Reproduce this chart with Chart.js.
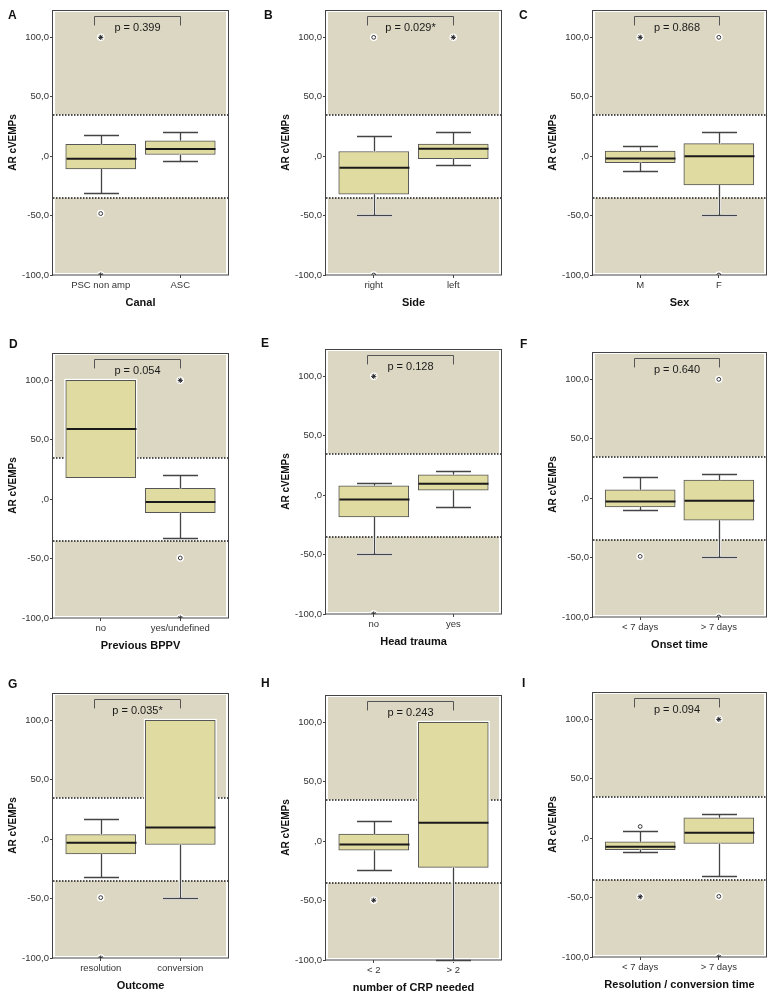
<!DOCTYPE html>
<html>
<head>
<meta charset="utf-8">
<script src="https://cdn.jsdelivr.net/npm/chart.js@4.4.1/dist/chart.umd.min.js"></script>
<style>
  body { margin: 0; background: #fff; width: 773px; height: 992px; overflow: hidden; position: relative; }
  .panel { position: absolute; }
  .letter { position: absolute; font: bold 12px 'Liberation Sans', Arial, sans-serif; color: #111; line-height: 14px; }
</style>
</head>
<body>
<script>
// ---- data (AR cVEMPs, %) ----
const panelLetters = ['A', 'B', 'C', 'D', 'E', 'F', 'G', 'H', 'I'];
const xAxisTitles = ['Canal', 'Side', 'Sex', 'Previous BPPV', 'Head trauma', 'Onset time',
  'Outcome', 'number of CRP needed', 'Resolution / conversion time'];
const groupLabels = [
  ['PSC non amp', 'ASC'], ['right', 'left'], ['M', 'F'],
  ['no', 'yes/undefined'], ['no', 'yes'], ['< 7 days', '> 7 days'],
  ['resolution', 'conversion'], ['< 2', '> 2'], ['< 7 days', '> 7 days'],
];
const pValueLabels = ['p = 0.399', 'p = 0.029*', 'p = 0.868', 'p = 0.054', 'p = 0.128',
  'p = 0.640', 'p = 0.035*', 'p = 0.243', 'p = 0.094'];

const whiskerLow = [[-30.8, -4.2], [-49.2, -7.6], [-12.1, -49.2], [18, -32.3], [-49.4, -9.9],
  [-9.8, -49.2], [-31.5, -49.4], [-24.6, -100], [-11.8, -31.5]];
const boxQ1 = [[-10.8, 1.4], [-32, -2.2], [-5.4, -24.3], [18, -11.4], [-18.4, 4.2],
  [-7.3, -18.5], [-12.4, -4.5], [-7.6, -22], [-9.6, -4.5]];
const boxMedian = [[-2.2, 6.1], [-9.8, 6.2], [-2, 0], [59, -2.3], [-3.7, 9.6],
  [-2.8, -2.2], [-3.1, 9.8], [-2.8, 15.5], [-7.3, 4.5]];
const boxQ3 = [[10, 13], [3.9, 10.1], [4.2, 10.5], [100, 9.1], [7.9, 17.2],
  [7, 15.2], [3.9, 100], [5.9, 100], [-3.1, 17.1]];
const whiskerHigh = [[17.5, 20.3], [17.1, 20], [8.5, 20.3], [100, 20.6], [10.5, 20.3],
  [17.4, 20], [16.9, 100], [17.2, 100], [6.2, 20.5]];

// outliers as [group index, value]
const circleOutliers = [
  [[0, -48.3]], [[0, 100], [0, -100]], [[1, 100], [1, -100]],
  [[1, -49.5]], [], [[0, -49], [1, 100], [1, -100]],
  [[0, -49.2]], [], [[0, 9.8], [1, -49]],
];
const starOutliers = [
  [[0, 100], [0, -100]], [[1, 100]], [[0, 100]],
  [[1, 100], [1, -100]], [[0, 100], [0, -100]], [],
  [[0, -100]], [[0, -49.7]], [[0, -49.3], [1, 100], [1, -100]],
];

const yTickValues = [-100, -50, 0, 50, 100];
const yRange = [-100, 123];
const xRange = [-0.6, 1.6];
const normalBand = [-35, 35];
const bracketLevels = [118, 110];
const pLabelLevel = 107.5;
const bracketSpan = [-0.08, 1];

// ---- layout / style ----
const colLeft = [0, 273, 540];
const colRightPad = [6, 6, 8];
const panelTop = [0, 0, 0, 343, 339, 342, 683, 685, 682];
const letterPos = [[8, 8], [264, 8], [519, 8], [9, 337], [261, 336], [520, 337], [8, 677], [261, 676], [522, 676]];
const FONT = "'Liberation Sans', Arial, sans-serif";
const BEIGE = '#dcd7c2';
const BOX_FILL = '#e0dba0';
const INK = '#444';

Chart.defaults.font.family = FONT;

const yTickLabel = (v) => (v === 0 ? ',0' : v.toFixed(1).replace('.', ','));

const spssBox = {
  id: 'spssBox',
  beforeDraw(chart) {
    const { ctx, chartArea: a, scales: { y } } = chart;
    const yHi = y.getPixelForValue(normalBand[1]);
    const yLo = y.getPixelForValue(normalBand[0]);
    ctx.save();
    ctx.fillStyle = '#fff';
    ctx.fillRect(a.left, a.top, a.width, a.height);
    ctx.fillStyle = BEIGE;
    ctx.fillRect(a.left + 2, a.top + 2, a.width - 4, a.height - 4);
    ctx.fillStyle = '#fff';
    ctx.fillRect(a.left, yHi, a.width, yLo - yHi);
    ctx.strokeStyle = '#1a1a1a';
    ctx.lineWidth = 1.5;
    ctx.setLineDash([1.5, 1.5]);
    [yHi, yLo].forEach((py) => {
      ctx.beginPath();
      ctx.moveTo(a.left, Math.round(py));
      ctx.lineTo(a.right, Math.round(py));
      ctx.stroke();
    });
    ctx.restore();
  },
  beforeDatasetDraw(chart, args) {
    if (args.meta.type !== 'bar') return;
    const { ctx } = chart;
    ctx.save();
    ctx.strokeStyle = '#fff';
    ctx.lineWidth = 3;
    args.meta.data.forEach((bar) => {
      const top = Math.min(bar.y, bar.base), h = Math.abs(bar.base - bar.y);
      ctx.strokeRect(bar.x - bar.width / 2, top, bar.width, h);
    });
    ctx.restore();
  },
  afterDatasetDraw(chart, args, opts) {
    if (args.meta.type !== 'bar') return;
    const p = opts.panel;
    const { ctx, scales: { x, y } } = chart;
    const boxW = args.meta.data[0].width;
    const capW = boxW / 2;
    const seg = (x0, y0, x1, y1) => { ctx.beginPath(); ctx.moveTo(x0, y0); ctx.lineTo(x1, y1); ctx.stroke(); };
    ctx.save();
    groupLabels[p].forEach((_, i) => {
      const cx = Math.round(x.getPixelForValue(i)) + 0.5;
      const parts = [];
      if (whiskerHigh[p][i] > boxQ3[p][i]) parts.push([boxQ3[p][i], whiskerHigh[p][i]]);
      if (whiskerLow[p][i] < boxQ1[p][i]) parts.push([boxQ1[p][i], whiskerLow[p][i]]);
      [['#fff', 3], [INK, 1.3]].forEach(([col, lw]) => {
        ctx.strokeStyle = col;
        ctx.lineWidth = lw;
        parts.forEach(([from, to]) => {
          const yEnd = Math.round(y.getPixelForValue(to)) + 0.5;
          seg(cx, y.getPixelForValue(from), cx, yEnd);
          seg(cx - capW / 2, yEnd, cx + capW / 2, yEnd);
        });
      });
      ctx.strokeStyle = '#1a1a1a';
      ctx.lineWidth = 2;
      const ym = y.getPixelForValue(boxMedian[p][i]);
      seg(cx - boxW / 2, ym, cx + boxW / 2, ym);
    });
    ctx.restore();
  },
  afterDraw(chart, args, opts) {
    const p = opts.panel;
    const { ctx, chartArea: a, scales: { x, y } } = chart;
    ctx.save();
    ctx.strokeStyle = INK;
    ctx.lineWidth = 1;
    ctx.strokeRect(Math.round(a.left) - 0.5, Math.round(a.top) + 0.5, Math.round(a.width) + 1, Math.round(a.height) - 0.5);
    // significance bracket
    const x0 = Math.round(x.getPixelForValue(bracketSpan[0])) + 0.5;
    const x1 = Math.round(x.getPixelForValue(bracketSpan[1])) + 0.5;
    const yTop = Math.round(y.getPixelForValue(bracketLevels[0])) + 0.5;
    const yEnd = y.getPixelForValue(bracketLevels[1]);
    ctx.strokeStyle = '#555';
    ctx.beginPath();
    ctx.moveTo(x0, yEnd); ctx.lineTo(x0, yTop); ctx.lineTo(x1, yTop); ctx.lineTo(x1, yEnd);
    ctx.stroke();
    ctx.fillStyle = '#1a1a1a';
    ctx.font = '11px ' + FONT;
    ctx.textAlign = 'center';
    ctx.textBaseline = 'middle';
    ctx.fillText(pValueLabels[p], (x0 + x1) / 2, y.getPixelForValue(pLabelLevel));
    ctx.restore();
  },
};

const pointClip = { left: 6, top: 6, right: 6, bottom: 0 };

panelLetters.forEach((letter, p) => {
  const col = p % 3;
  const wrap = document.createElement('div');
  wrap.className = 'panel';
  wrap.style.left = colLeft[col] + 'px';
  wrap.style.top = panelTop[p] + 'px';
  const canvas = document.createElement('canvas');
  canvas.width = 234;
  canvas.height = 310;
  wrap.appendChild(canvas);
  document.body.appendChild(wrap);

  const lab = document.createElement('div');
  lab.className = 'letter';
  lab.textContent = letter;
  lab.style.left = letterPos[p][0] + 'px';
  lab.style.top = letterPos[p][1] + 'px';
  document.body.appendChild(lab);

  const groups = groupLabels[p].map((_, i) => i);
  const outlierPts = (list) => list.map(([g, v]) => ({ x: g, y: v }));

  new Chart(canvas, {
    type: 'bar',
    data: {
      datasets: [
        {
          data: groups.map((i) => ({ x: i, y: [boxQ1[p][i], boxQ3[p][i]] })),
          backgroundColor: BOX_FILL,
          borderColor: '#555',
          borderWidth: 1,
          borderSkipped: false,
          barThickness: 70,
          order: 3,
        },
        {
          type: 'scatter',
          data: outlierPts([...circleOutliers[p], ...starOutliers[p]]),
          pointRadius: 3.8,
          pointBackgroundColor: '#fff',
          pointBorderWidth: 0,
          clip: pointClip,
          order: 2,
        },
        {
          type: 'scatter',
          data: outlierPts(circleOutliers[p]),
          pointStyle: 'circle',
          pointRadius: 1.9,
          pointBackgroundColor: '#fff',
          pointBorderColor: '#333',
          pointBorderWidth: 1,
          clip: pointClip,
          order: 1,
        },
        {
          type: 'scatter',
          data: outlierPts(starOutliers[p]),
          pointStyle: 'star',
          pointRadius: 2.6,
          pointBorderColor: '#222',
          pointBorderWidth: 1,
          clip: pointClip,
          order: 0,
        },
      ],
    },
    options: {
      responsive: false,
      devicePixelRatio: 1,
      animation: false,
      events: [],
      layout: { padding: { top: 10, right: colRightPad[col], left: 0, bottom: 0 } },
      plugins: { legend: { display: false }, tooltip: { enabled: false }, spssBox: { panel: p } },
      scales: {
        x: {
          type: 'linear',
          min: xRange[0],
          max: xRange[1],
          bounds: 'data',
          offset: false,
          afterDataLimits: (s) => { s.min = xRange[0]; s.max = xRange[1]; },
          afterBuildTicks: (s) => { s.ticks = groups.map((v) => ({ value: v })); },
          afterFit: (s) => { s.height = 35; },
          grid: { display: true, offset: false, drawOnChartArea: false, drawTicks: true, tickLength: 3, color: INK },
          border: { display: false },
          ticks: {
            autoSkip: false, maxRotation: 0, padding: 2, color: '#333',
            font: { size: 9.5 },
            callback: (v) => groupLabels[p][v],
          },
          title: { display: true, text: xAxisTitles[p], color: '#111', font: { size: 11, weight: 'bold' }, padding: { top: 0, bottom: 0 } },
        },
        y: {
          type: 'linear',
          min: yRange[0],
          max: yRange[1],
          afterBuildTicks: (s) => { s.ticks = yTickValues.map((v) => ({ value: v })); },
          afterFit: (s) => { s.width = 53; },
          grid: { display: true, drawOnChartArea: false, drawTicks: true, tickLength: 3, color: INK },
          border: { display: false },
          ticks: { padding: 1, color: '#333', font: { size: 9.5 }, callback: yTickLabel },
          title: { display: true, text: 'AR cVEMPs', color: '#111', font: { size: 10, weight: 'bold' }, padding: { top: 7, bottom: 0 } },
        },
      },
    },
    plugins: [spssBox],
  });
});
</script>
</body>
</html>
